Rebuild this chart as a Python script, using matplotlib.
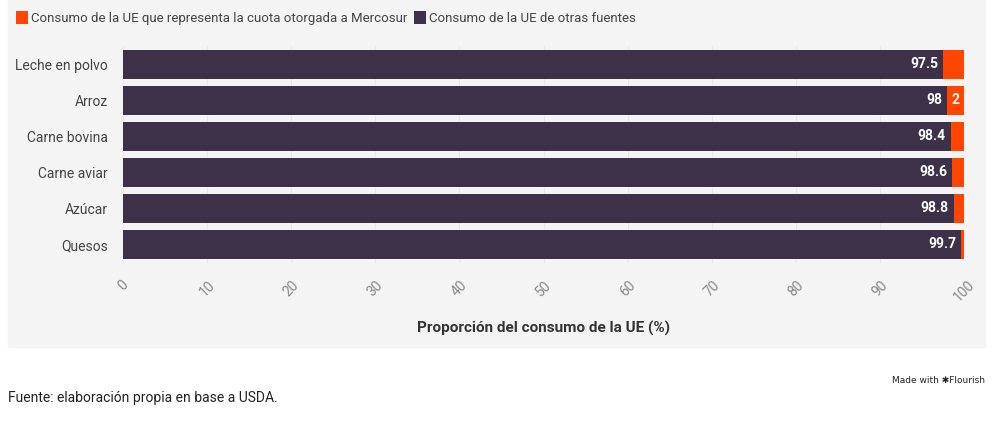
import matplotlib.pyplot as plt
from matplotlib.patches import Rectangle, Patch

# =========================
# DATA
# =========================

categories = ["Leche en polvo", "Arroz", "Carne bovina", "Carne aviar", "Azúcar", "Quesos"]
otras = [97.5, 98, 98.4, 98.6, 98.8, 99.7]
mercosur = [2.5, 2, 1.6, 1.4, 1.2, 0.3]
xticks = [0, 10, 20, 30, 40, 50, 60, 70, 80, 90, 100]
legend_labels = ["Consumo de la UE que representa la cuota otorgada a Mercosur",
                 "Consumo de la UE de otras fuentes"]

DARK = "#3d3149"
ORANGE = "#ff4500"
BG = "#f4f4f4"

plt.rcParams["font.family"] = ["Roboto", "DejaVu Sans"]

fig = plt.figure(figsize=(10, 4.23), dpi=100)

# panel gris de fondo
fig.patches.append(Rectangle((0.008, 1 - 347 / 423), 0.977, 347 / 423,
                             transform=fig.transFigure, color=BG, zorder=-10))

ax = fig.add_axes([0.123, 1 - 262.5 / 423, 0.841, 216 / 423])
ax.set_facecolor("none")

y = list(range(len(categories)))
ax.barh(y, otras, height=0.78, color=DARK, zorder=2)
ax.barh(y, mercosur, left=otras, height=0.78, color=ORANGE, zorder=2)

for i, v in enumerate(otras):
    ax.text(v - 0.6, i, f"{v:g}", color="white", fontweight="bold",
            ha="right", va="center", fontsize=10, zorder=3)
# solo la etiqueta que entra en el segmento naranja
ax.text(otras[1] + mercosur[1] / 2, 1, f"{mercosur[1]:g}", color="white", fontweight="bold",
        ha="center", va="center", fontsize=10, zorder=3)

ax.set_ylim(len(categories) - 0.5, -0.5)
ax.set_xlim(0, 100)
ax.set_yticks(y)
ax.set_yticklabels(categories, fontsize=10, color="#444444")
ax.set_xticks(xticks)
ax.set_xticklabels([str(t) for t in xticks], rotation=45, ha="center", va="top",
                   fontsize=10, color="#888888")
ax.tick_params(axis="y", length=0, pad=11)
ax.tick_params(axis="x", length=0, pad=11)
ax.grid(axis="x", color="#e8e8e8", linewidth=0.8, zorder=1)
for s in ax.spines.values():
    s.set_visible(False)

ax.set_xlabel("Proporción del consumo de la UE (%)", fontsize=11, fontweight="bold",
              color="#333333", labelpad=12)

# leyenda
handles = [Patch(facecolor=ORANGE), Patch(facecolor=DARK)]
fig.legend(handles, legend_labels, loc="center left", bbox_to_anchor=(0.016, 1 - 18 / 423),
           ncol=2, frameon=False, fontsize=9.5, handlelength=0.9, handleheight=1.1,
           handletextpad=0.25, columnspacing=0.5, borderaxespad=0, borderpad=0,
           labelcolor="#444444")

fig.text(0.008, 1 - 398 / 423, "Fuente: elaboración propia en base a USDA.",
         fontsize=10, color="#222222", va="center")
fig.text(0.985, 1 - 380 / 423, "Made with ✱Flourish", fontsize=6.5, color="#222222",
         ha="right", va="center", family=["DejaVu Sans"])

fig.savefig("out.png", dpi=100, facecolor="white")
